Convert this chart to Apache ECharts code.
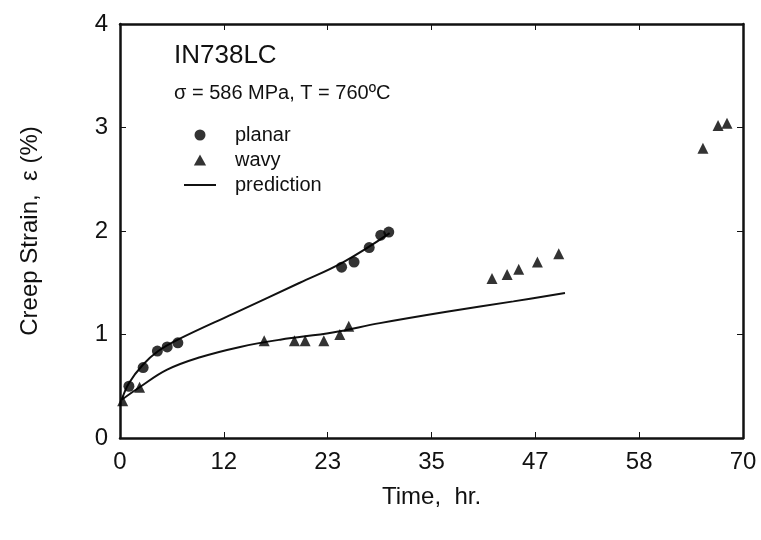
<!DOCTYPE html>
<html>
<head>
<meta charset="utf-8">
<title>IN738LC creep strain</title>
<script src="https://cdn.jsdelivr.net/npm/echarts@6/dist/echarts.min.js"></script>
<style>
  html, body { margin: 0; padding: 0; background: #fff; }
  #chart { width: 761px; height: 540px; }
</style>
</head>
<body>
<div id="chart"></div>
<script>
// measured points (time in hr, strain in %)
var planarTime = [1.0, 2.6, 4.2, 5.3, 6.5, 24.9, 26.3, 28.0, 29.3, 30.2]
var planarStrain = [0.50, 0.68, 0.84, 0.88, 0.92, 1.65, 1.70, 1.84, 1.96, 1.99]

var wavyTime = [0.3, 2.2, 16.2, 19.6, 20.8, 22.9, 24.7, 25.7, 41.8, 43.5, 44.8, 46.9, 49.3, 65.5, 67.2, 68.2]
var wavyStrain = [0.36, 0.49, 0.94, 0.94, 0.94, 0.94, 1.00, 1.08, 1.54, 1.58, 1.63, 1.70, 1.78, 2.80, 3.02, 3.04]

// prediction curves
var predPlanarTime = [0.2, 1.0, 2.6, 4.3, 6.5, 12.7, 20.2, 25.1, 30.3]
var predPlanarStrain = [0.37, 0.53, 0.71, 0.84, 0.95, 1.20, 1.50, 1.70, 1.98]
var predWavyTime = [0.2, 2.2, 5.3, 9.0, 13.5, 18.0, 23.9, 29.2, 36.7, 44.2, 50.0]
var predWavyStrain = [0.37, 0.49, 0.66, 0.78, 0.88, 0.95, 1.02, 1.11, 1.22, 1.32, 1.40]

var xMin = 0
var xMax = 70
var yTicks = [0, 1, 2, 3, 4]

var font = 'Liberation Sans, Arial, sans-serif'
var ink = '#111'

function pairs (xs, ys) {
  return xs.map(function (x, i) { return [x, ys[i]] })
}

var chart = echarts.init(document.getElementById('chart'))

// shared frame look: thick line, short ticks pointing in
var frameLine = { show: true, onZero: false, lineStyle: { color: ink, width: 2.5 } }
var frameTick = { show: true, inside: true, length: 6, lineStyle: { color: ink, width: 1 } }

var xFrame = {
  type: 'value',
  min: xMin,
  max: xMax,
  interval: (xMax - xMin) / 6,
  axisLine: frameLine,
  axisTick: frameTick,
  splitLine: { show: false }
}
var yFrame = {
  type: 'value',
  min: yTicks[0],
  max: yTicks[yTicks.length - 1],
  interval: 1,
  axisLine: frameLine,
  axisTick: frameTick,
  splitLine: { show: false }
}

chart.setOption({
  animation: false,
  backgroundColor: '#fff',
  textStyle: { fontFamily: font },
  grid: { left: 120, top: 24, right: 18, bottom: 102 },
  title: {
    text: 'IN738LC',
    subtext: 'σ = 586 MPa, T = 760ºC',
    left: 174,
    top: 43,
    padding: 0,
    itemGap: 14,
    textStyle: { fontFamily: font, fontSize: 26, fontWeight: 'normal', color: ink },
    subtextStyle: { fontFamily: font, fontSize: 20, color: ink }
  },
  legend: {
    orient: 'vertical',
    left: 184,
    top: 125,
    padding: 0,
    itemWidth: 32,
    itemHeight: 11,
    itemGap: 5,
    symbolKeepAspect: true,
    selectedMode: false,
    textStyle: { fontFamily: font, fontSize: 20, color: ink, padding: [0, 0, 0, 14] },
    data: [
      { name: 'planar', icon: 'circle' },
      { name: 'wavy', icon: 'path://M5,0L10,9L0,9Z' },
      { name: 'prediction', icon: 'path://M0,0H16V1H0Z' }
    ]
  },
  xAxis: [
    Object.assign({}, xFrame, {
      position: 'bottom',
      name: 'Time,  hr.',
      nameLocation: 'middle',
      nameGap: 47,
      nameTextStyle: { fontFamily: font, fontSize: 24, color: ink },
      axisLabel: {
        margin: 12,
        fontFamily: font,
        fontSize: 24,
        color: ink,
        formatter: function (v) { return Math.round(v) }
      }
    }),
    Object.assign({}, xFrame, { position: 'top', axisLabel: { show: false } })
  ],
  yAxis: [
    Object.assign({}, yFrame, {
      position: 'left',
      name: 'Creep Strain,  ε (%)',
      nameLocation: 'middle',
      nameGap: 78,
      nameTextStyle: { fontFamily: font, fontSize: 24, color: ink },
      axisLabel: { margin: 12, fontFamily: font, fontSize: 24, color: ink }
    }),
    Object.assign({}, yFrame, { position: 'right', axisLabel: { show: false } })
  ],
  series: [
    {
      name: 'planar',
      type: 'scatter',
      symbol: 'circle',
      symbolSize: 11,
      itemStyle: { color: '#000' },
      data: pairs(planarTime, planarStrain),
      z: 3
    },
    {
      name: 'wavy',
      type: 'scatter',
      symbol: 'triangle',
      symbolSize: 11,
      itemStyle: { color: '#000' },
      data: pairs(wavyTime, wavyStrain),
      z: 3
    },
    {
      name: 'prediction',
      type: 'line',
      smooth: 0.4,
      symbol: 'none',
      lineStyle: { color: ink, width: 2 },
      itemStyle: { color: ink },
      data: pairs(predPlanarTime, predPlanarStrain)
    },
    {
      name: 'prediction',
      type: 'line',
      smooth: 0.4,
      symbol: 'none',
      lineStyle: { color: ink, width: 2 },
      itemStyle: { color: ink },
      data: pairs(predWavyTime, predWavyStrain)
    }
  ]
})
</script>
</body>
</html>
